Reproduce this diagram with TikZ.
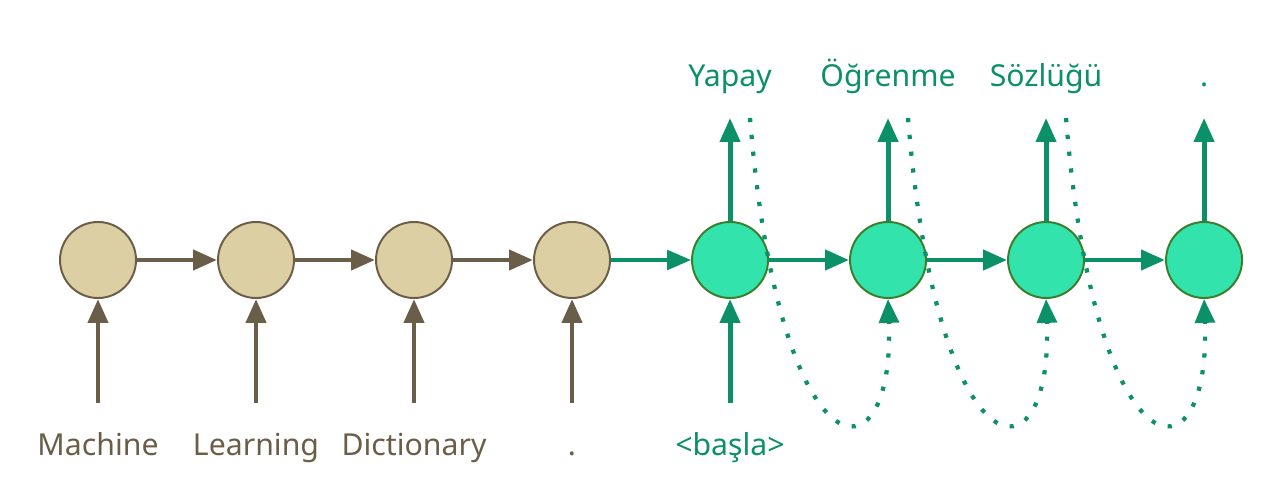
\documentclass[tikz,border=0pt]{standalone}
\usepackage{fontspec}
\setmainfont{Noto Sans}
\usepackage{tikz}
\usetikzlibrary{arrows.meta, positioning}
\definecolor{encbrown}{HTML}{6B5E48}
\definecolor{enctan}{HTML}{DCCFA3}
\definecolor{decgreen}{HTML}{0B9068}
\definecolor{decmint}{HTML}{33E3AC}
\definecolor{decborder}{HTML}{3D7D2E}

\begin{document}
\begin{tikzpicture}[x=0.025cm, y=-0.025cm, >={Triangle[length=17pt, width=14pt]}, node distance=2cm,
  enc/.style={circle, draw=encbrown, fill=enctan, line width=1.4pt, minimum size=1.9cm, inner sep=0pt},
  dec/.style={circle, draw=decborder, fill=decmint, line width=1.4pt, minimum size=1.9cm, inner sep=0pt},
  srcword/.style={anchor=base, text=encbrown, font=\fontsize{21.5}{26}\selectfont},
  tgtword/.style={anchor=base, text=decgreen, font=\fontsize{21.5}{26}\selectfont},
  encarrow/.style={->, line width=3.5pt, encbrown},
  decarrow/.style={->, line width=3.5pt, decgreen},
  feedback/.style={->, line width=3pt, decgreen, dash pattern=on 3pt off 9pt}]
  \useasboundingbox (0,0) rectangle (1277,478);
  % rows for words and free arrow ends
  \coordinate (toprow) at (0,87);
  \coordinate (outrow) at (0,118);
  \coordinate (inrow) at (0,403);
  \coordinate (baserow) at (0,455);
  % encoder
  \node[enc] (e1) at (98,260) {};
  \node[enc, right=of e1] (e2) {};
  \node[enc, right=of e2] (e3) {};
  \node[enc, right=of e3] (e4) {};
  % decoder
  \node[dec, right=of e4] (d1) {};
  \node[dec, right=of d1] (d2) {};
  \node[dec, right=of d2] (d3) {};
  \node[dec, right=of d3] (d4) {};
  % source words
  \node[srcword] (w1) at (e1 |- baserow) {Machine};
  \node[srcword] (w2) at (e2 |- baserow) {Learning};
  \node[srcword] (w3) at (e3 |- baserow) {Dictionary};
  \node[srcword] (w4) at (e4 |- baserow) {.};
  \node[tgtword] (start) at (d1 |- baserow) {<başla>};
  % target words
  \node[tgtword] (t1) at (d1 |- toprow) {Yapay};
  \node[tgtword] (t2) at (d2 |- toprow) {Öğrenme};
  \node[tgtword] (t3) at (d3 |- toprow) {Sözlüğü};
  \node[tgtword] (t4) at (d4 |- toprow) {.};
  % free ends
  \coordinate (i1) at (e1 |- inrow);
  \coordinate (i2) at (e2 |- inrow);
  \coordinate (i3) at (e3 |- inrow);
  \coordinate (i4) at (e4 |- inrow);
  \coordinate (i5) at (d1 |- inrow);
  \coordinate (o1) at (d1 |- outrow);
  \coordinate (o2) at (d2 |- outrow);
  \coordinate (o3) at (d3 |- outrow);
  \coordinate (o4) at (d4 |- outrow);
  \coordinate (f1) at ([xshift=0.5cm]o1);
  \coordinate (f2) at ([xshift=0.5cm]o2);
  \coordinate (f3) at ([xshift=0.5cm]o3);
  % inputs
  \draw[encarrow] (i1) -- (e1);
  \draw[encarrow] (i2) -- (e2);
  \draw[encarrow] (i3) -- (e3);
  \draw[encarrow] (i4) -- (e4);
  \draw[decarrow] (i5) -- (d1);
  % hidden states
  \draw[encarrow] (e1) -- (e2);
  \draw[encarrow] (e2) -- (e3);
  \draw[encarrow] (e3) -- (e4);
  \draw[decarrow, line width=2.2pt] (e4) -- (d1);
  \draw[decarrow] (d1) -- (d2);
  \draw[decarrow] (d2) -- (d3);
  \draw[decarrow] (d3) -- (d4);
  % outputs
  \draw[decarrow] (d1) -- (o1);
  \draw[decarrow] (d2) -- (o2);
  \draw[decarrow] (d3) -- (o3);
  \draw[decarrow] (d4) -- (o4);
  % output fed back as next input
  \draw[feedback] (f1) .. controls +(29,362) and +(7,190) .. (d2.south);
  \draw[feedback] (f2) .. controls +(29,362) and +(7,190) .. (d3.south);
  \draw[feedback] (f3) .. controls +(29,362) and +(7,190) .. (d4.south);
\end{tikzpicture}
\end{document}
